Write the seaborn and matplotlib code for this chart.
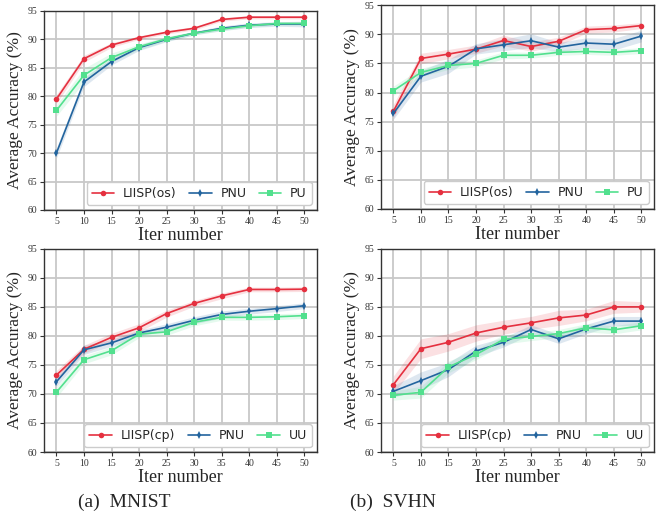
import matplotlib
matplotlib.use("Agg")
import matplotlib.pyplot as plt
import seaborn as sns
import pandas as pd
import numpy as np

iters = [5, 10, 15, 20, 25, 30, 35, 40, 45, 50]

# (a) MNIST top
mn_top_liisp = [79.5, 86.6, 89.0, 90.3, 91.25, 91.95, 93.5, 93.9, 93.9, 93.9]
mn_top_pnu = [70.0, 82.5, 86.1, 88.55, 90.0, 91.1, 91.95, 92.5, 92.7, 92.7]
mn_top_pu = [77.5, 83.7, 86.8, 88.7, 90.1, 91.1, 91.8, 92.4, 92.8, 92.8]
mn_top_liisp_sd = [0.8, 0.6, 0.4, 0.3, 0.3, 0.3, 0.3, 0.3, 0.3, 0.3]
mn_top_pnu_sd = [0.9, 0.8, 0.6, 0.5, 0.4, 0.3, 0.4, 0.4, 0.4, 0.5]
mn_top_pu_sd = [1.0, 1.2, 0.8, 0.5, 0.4, 0.3, 0.3, 0.3, 0.3, 0.3]

# (b) SVHN top
sv_top_liisp = [76.76, 85.85, 86.6, 87.45, 88.94, 87.9, 88.8, 90.8, 91.0, 91.5]
sv_top_pnu = [76.4, 82.8, 84.5, 87.5, 88.2, 88.9, 87.8, 88.5, 88.3, 89.7]
sv_top_pu = [80.3, 83.45, 84.65, 85.0, 86.4, 86.4, 86.9, 87.05, 86.9, 87.2]
sv_top_liisp_sd = [1.2, 0.9, 0.8, 0.7, 0.9, 0.8, 0.7, 0.6, 0.6, 0.5]
sv_top_pnu_sd = [1.0, 1.0, 1.2, 0.9, 1.0, 1.2, 0.8, 0.9, 1.0, 1.0]
sv_top_pu_sd = [0.8, 0.7, 0.7, 0.6, 0.6, 0.5, 0.5, 0.5, 0.5, 0.5]

# (a) MNIST bottom
mn_bot_liisp = [73.25, 77.7, 79.75, 81.4, 83.85, 85.6, 86.9, 88.0, 88.0, 88.05]
mn_bot_pnu = [72.1, 77.6, 78.8, 80.5, 81.5, 82.7, 83.7, 84.25, 84.7, 85.2]
mn_bot_uu = [70.3, 75.9, 77.45, 80.3, 80.7, 82.35, 83.2, 83.2, 83.3, 83.5]
mn_bot_liisp_sd = [0.8, 0.7, 0.7, 0.7, 0.6, 0.5, 0.5, 0.4, 0.4, 0.4]
mn_bot_pnu_sd = [0.8, 0.8, 0.6, 0.5, 0.6, 0.6, 0.6, 0.5, 0.5, 0.5]
mn_bot_uu_sd = [0.9, 0.7, 0.7, 0.6, 0.6, 0.6, 0.5, 0.5, 0.5, 0.5]

# (b) SVHN bottom
sv_bot_liisp = [71.6, 77.8, 78.9, 80.5, 81.5, 82.25, 83.1, 83.6, 85.0, 85.0]
sv_bot_pnu = [70.45, 72.3, 74.2, 77.4, 78.9, 81.1, 79.5, 81.2, 82.55, 82.55]
sv_bot_uu = [69.75, 70.3, 74.65, 76.8, 79.4, 79.9, 80.4, 81.4, 81.05, 81.75]
sv_bot_liisp_sd = [1.5, 1.7, 1.5, 1.4, 1.2, 1.1, 1.3, 1.0, 1.1, 0.9]
sv_bot_pnu_sd = [1.0, 1.5, 1.2, 1.0, 0.8, 0.8, 0.8, 0.8, 0.8, 0.8]
sv_bot_uu_sd = [0.8, 1.0, 1.0, 0.9, 0.8, 0.7, 0.7, 0.7, 0.7, 0.7]

yticks = [60, 65, 70, 75, 80, 85, 90, 95]

RED = "#e5303f"
BLUE = "#22649e"
GREEN = "#52e08e"

sns.set_style("whitegrid", {
    "grid.color": "#bdbdbd",
    "axes.edgecolor": "#333333",
    "xtick.bottom": True,
    "ytick.left": True,
})
plt.rcParams["font.family"] = ["Liberation Serif", "DejaVu Serif"]

fig = plt.figure(figsize=(6.62, 5.21), dpi=100)

positions = [
    [0.0665, 0.597, 0.412, 0.382],
    [0.5755, 0.599, 0.412, 0.391],
    [0.0665, 0.1324, 0.412, 0.390],
    [0.5755, 0.1324, 0.412, 0.390],
]

panels = [
    (["LIISP(os)", "PNU", "PU"], [mn_top_liisp, mn_top_pnu, mn_top_pu],
     [mn_top_liisp_sd, mn_top_pnu_sd, mn_top_pu_sd]),
    (["LIISP(os)", "PNU", "PU"], [sv_top_liisp, sv_top_pnu, sv_top_pu],
     [sv_top_liisp_sd, sv_top_pnu_sd, sv_top_pu_sd]),
    (["LIISP(cp)", "PNU", "UU"], [mn_bot_liisp, mn_bot_pnu, mn_bot_uu],
     [mn_bot_liisp_sd, mn_bot_pnu_sd, mn_bot_uu_sd]),
    (["LIISP(cp)", "PNU", "UU"], [sv_bot_liisp, sv_bot_pnu, sv_bot_uu],
     [sv_bot_liisp_sd, sv_bot_pnu_sd, sv_bot_uu_sd]),
]

colors = [RED, BLUE, GREEN]
markers = ["o", "d", "s"]

for pos, (names, means, sds) in zip(positions, panels):
    ax = fig.add_axes(pos)
    rows = []
    for n, m in zip(names, means):
        for x, v in zip(iters, m):
            rows.append({"Iter": x, "Acc": v, "Method": n})
    df = pd.DataFrame(rows)
    sns.lineplot(data=df, x="Iter", y="Acc", hue="Method", style="Method",
                 hue_order=names, style_order=names,
                 palette=dict(zip(names, colors)),
                 markers=dict(zip(names, markers)), dashes=False,
                 markersize=4, markeredgewidth=0, linewidth=1.2, ax=ax)
    for n, m, s, c in zip(names, means, sds, colors):
        m = np.asarray(m)
        s = np.asarray(s)
        ax.fill_between(iters, m - s, m + s, color=c, alpha=0.15, linewidth=0)
    ax.set_ylim(60, 95)
    ax.set_yticks(yticks)
    ax.set_xticks(iters)
    ax.grid(True, linewidth=1.3, color="#c8c8c8")
    ax.tick_params(axis="both", labelsize=7, length=3, width=0.8, pad=2,
                   colors="#333333")
    for sp in ax.spines.values():
        sp.set_linewidth(1.0)
        sp.set_color("#333333")
    ax.set_xlabel("Iter number", fontsize=13, labelpad=1)
    ax.set_ylabel("Average Accuracy (%)", fontsize=12.5, labelpad=3)
    leg = ax.legend(loc="lower right", ncol=3,
                    prop={"family": "DejaVu Sans", "size": 9},
                    columnspacing=1.0, handlelength=1.8, handletextpad=0.7,
                    borderaxespad=0.4, framealpha=1.0, edgecolor="#cccccc")

fig.text(0.188, 0.035, "(a)  MNIST", fontsize=14, ha="center", va="center")
fig.text(0.593, 0.035, "(b)  SVHN", fontsize=14, ha="center", va="center")

fig.savefig("out.png", dpi=100)
